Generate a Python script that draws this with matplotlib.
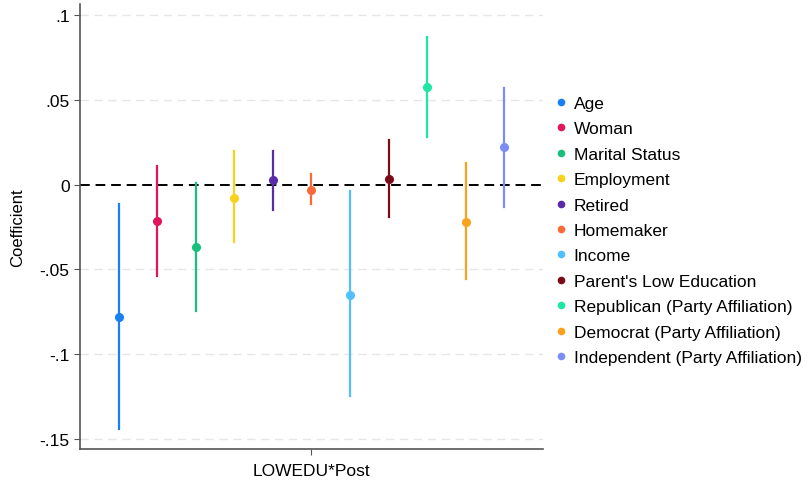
import matplotlib.pyplot as plt
from matplotlib.lines import Line2D
import numpy as np

plt.rcParams['font.family'] = ['Liberation Sans', 'DejaVu Sans']

# variables, in plotting order
labels = ["Age", "Woman", "Marital Status", "Employment", "Retired", "Homemaker",
          "Income", "Parent's Low Education", "Republican (Party Affiliation)",
          "Democrat (Party Affiliation)", "Independent (Party Affiliation)"]
coef = [-0.078, -0.0213, -0.0367, -0.0077, 0.0024, -0.003,
        -0.065, 0.0035, 0.0574, -0.022, 0.022]
ci_low = [-0.144, -0.054, -0.0746, -0.034, -0.015, -0.0112,
          -0.125, -0.019, 0.0278, -0.056, -0.013]
ci_high = [-0.0112, 0.0112, 0.001, 0.0195, 0.020, 0.0065,
           -0.004, 0.026, 0.087, 0.013, 0.0568]
colors = ["#1a7ff2", "#e0155c", "#18c07e", "#f9d21c", "#5a2aa8", "#f96a38",
          "#52bfff", "#7c0a16", "#1de8a2", "#f9a21c", "#7b8df6"]

yticks = [0.1, 0.05, 0, -0.05, -0.1, -0.15]
yticklabels = [".1", ".05", "0", "-.05", "-.1", "-.15"]

fig = plt.figure(figsize=(8.11, 4.81), dpi=100)
ax = fig.add_axes([0.0986, 0.0644, 0.5709, 0.9252])

x = np.arange(len(labels))
for i in range(len(labels)):
    ax.plot([x[i], x[i]], [ci_low[i], ci_high[i]], color=colors[i], lw=1.6, zorder=3)
    ax.plot(x[i], coef[i], 'o', color=colors[i], ms=5.5, zorder=4)

for t in yticks:
    if t != 0:
        ax.axhline(t, color='#e6e6e6', lw=1, ls=(0, (6, 4)), zorder=1)
ax.axhline(0, color='black', lw=1.4, ls=(0, (5, 3)), zorder=2)

ax.set_xlim(-1, 11)
ax.set_ylim(-0.156, 0.1065)
ax.set_yticks(yticks)
ax.set_yticklabels(yticklabels, fontsize=12.5)
ax.set_xticks([5])
ax.set_xticklabels(["LOWEDU*Post"], fontsize=12.5)
ax.set_ylabel("Coefficient", fontsize=12, labelpad=10)
ax.tick_params(axis='x', pad=6)

for s in ['top', 'right']:
    ax.spines[s].set_visible(False)
for s in ['left', 'bottom']:
    ax.spines[s].set_color('#555555')
    ax.spines[s].set_linewidth(1.2)
ax.tick_params(colors='#555555', labelcolor='black', length=4)

handles = [Line2D([], [], marker='o', ls='none', color=c, ms=4.5) for c in colors]
fig.legend(handles, labels, loc='upper left', bbox_to_anchor=(0.673, 0.813),
           frameon=False, fontsize=12.5, handletextpad=0.2, labelspacing=0.59,
           handlelength=1.0, borderaxespad=0)

fig.savefig("out.png", dpi=100)
